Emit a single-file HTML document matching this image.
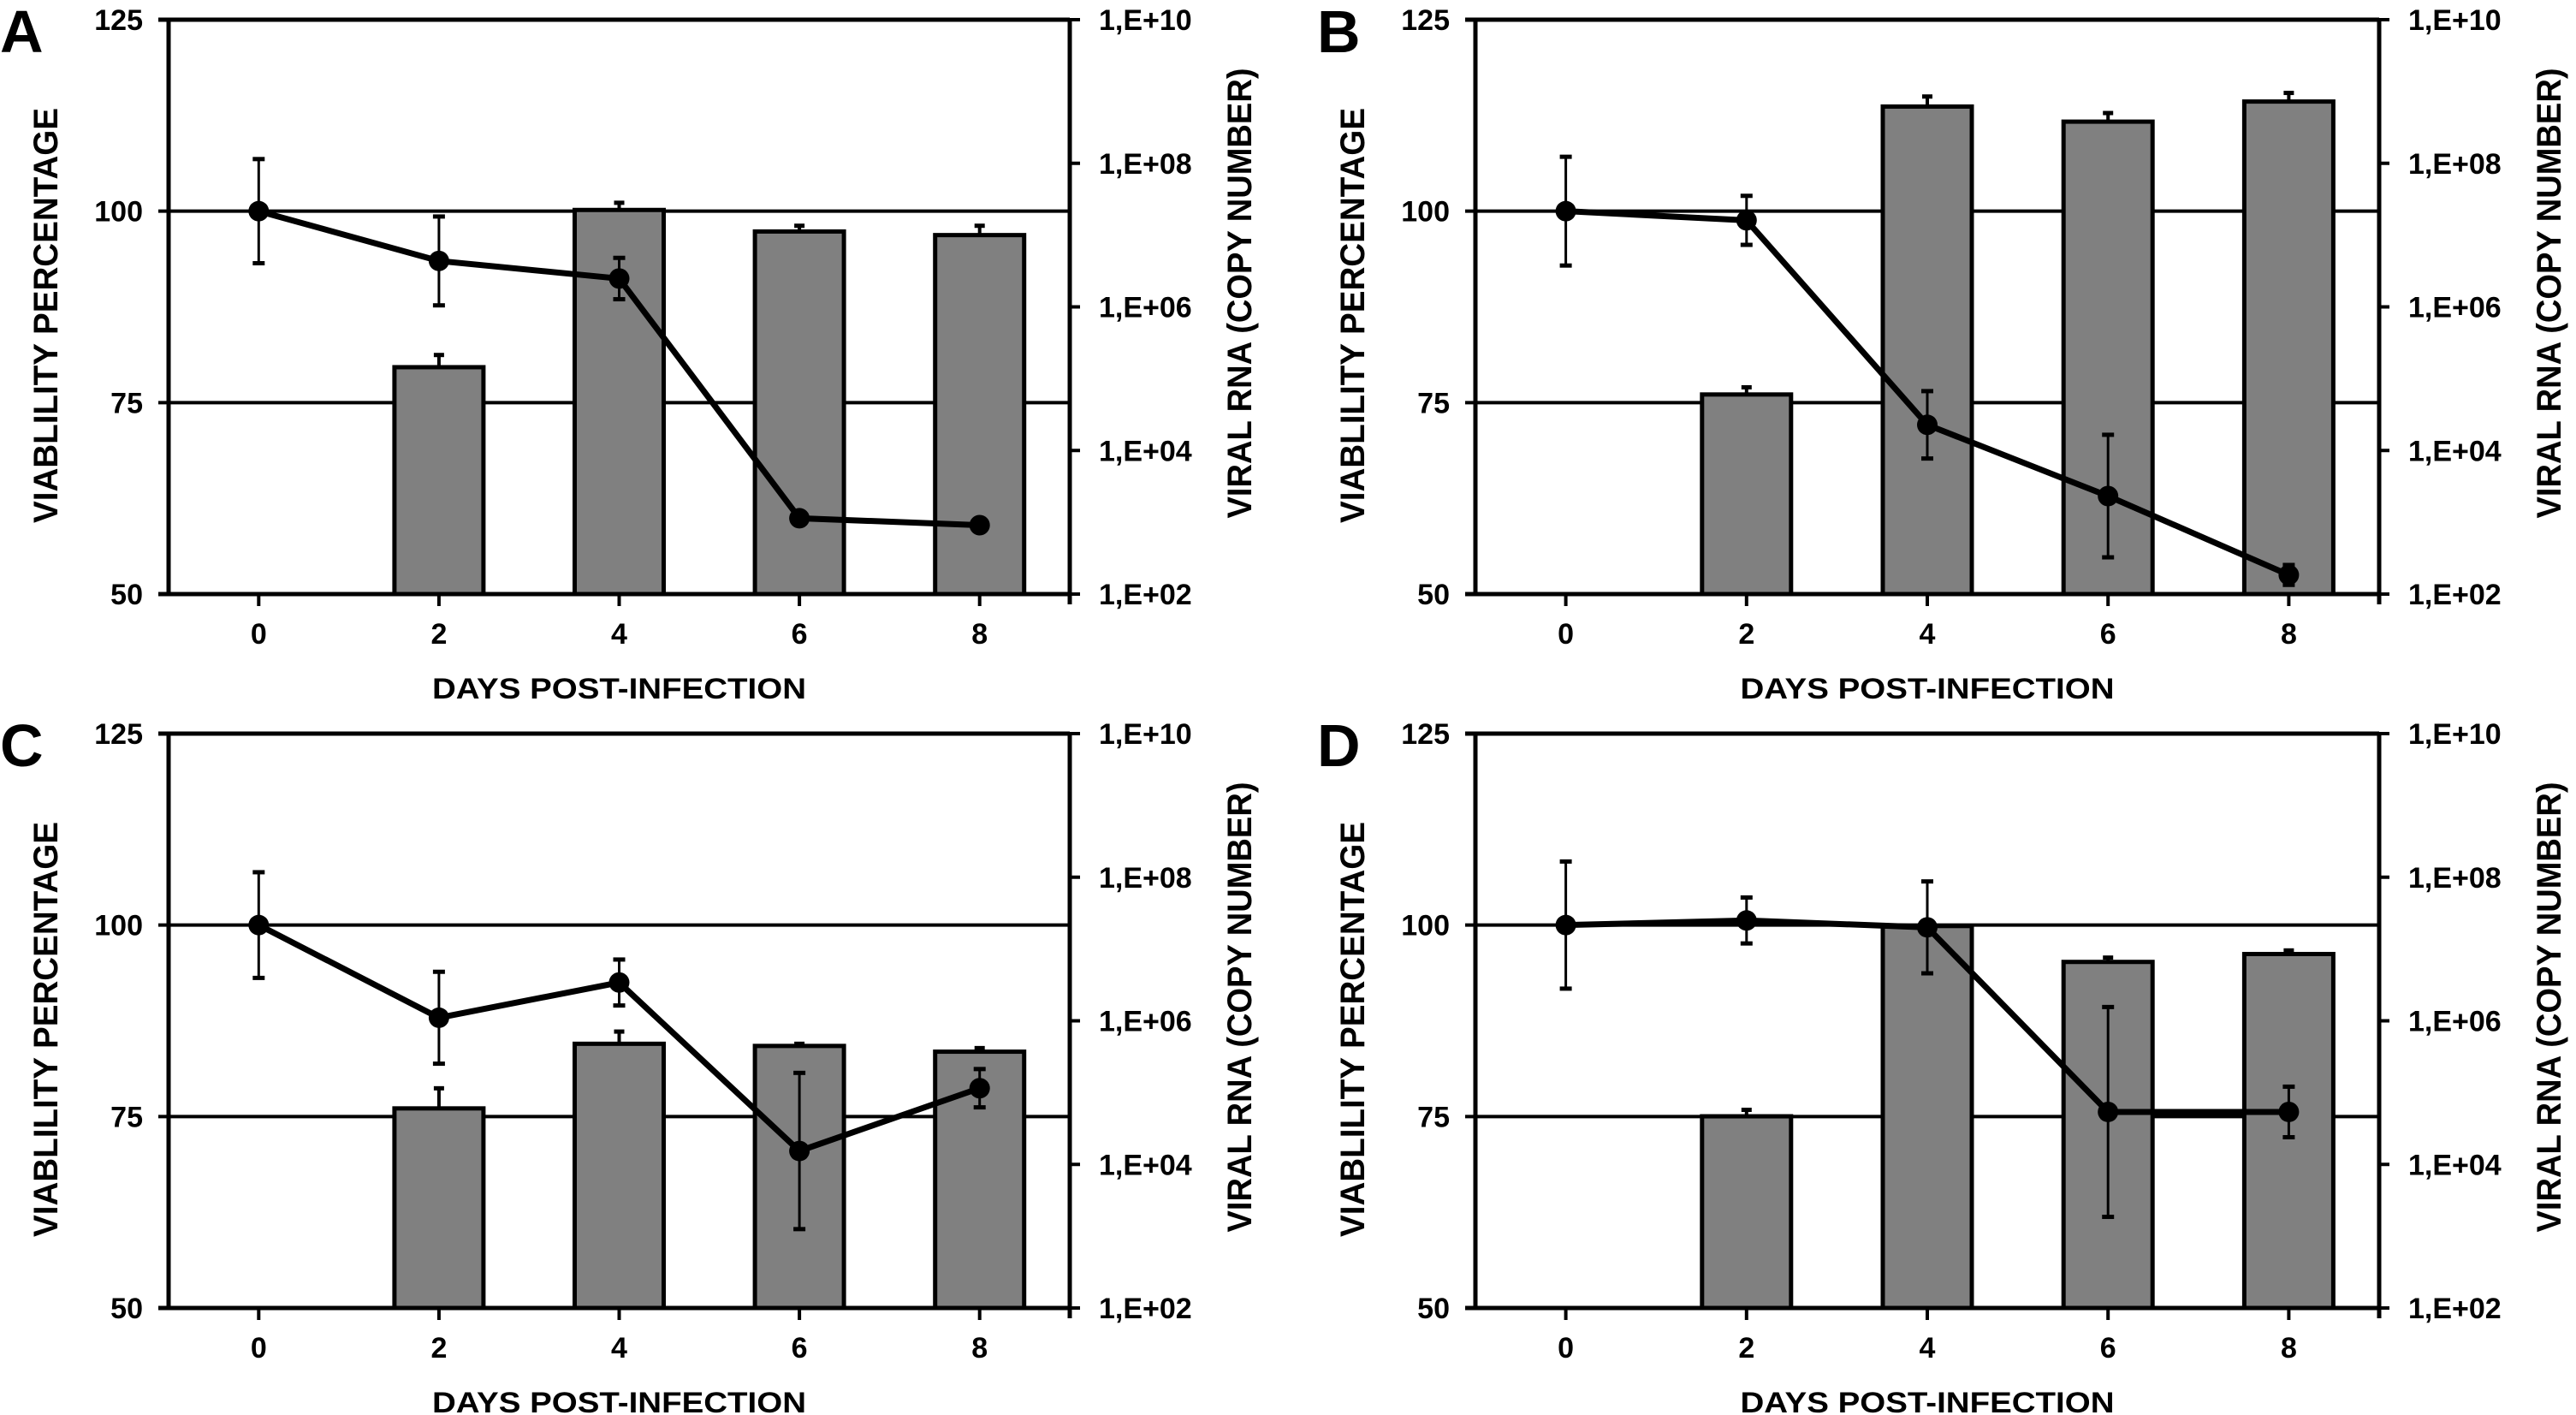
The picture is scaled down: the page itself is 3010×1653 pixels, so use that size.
<!DOCTYPE html>
<html><head><meta charset="utf-8">
<style>
html,body{margin:0;padding:0;background:#fff;}
svg{display:block;}
text{font-family:"Liberation Sans",sans-serif;font-weight:bold;fill:#000;}
</style></head>
<body>
<svg id="fig" width="3010" height="1653" viewBox="0 0 3010 1653" xmlns="http://www.w3.org/2000/svg"></svg>
<script>
const days = ["0","2","4","6","8"];
const leftTicks = [50,75,100,125];
const rightTickExp = [2,4,6,8,10];
const rightTickLabels = ["1,E+02","1,E+04","1,E+06","1,E+08","1,E+10"];
// viability line (%), and symmetric error
const viabA = [100,93.5,91.2,59.9,59.0];
const viabErrA = [6.8,5.8,2.7,0,0];
const viabB = [100,98.8,72.1,62.8,52.5];
const viabErrB = [7.1,3.2,4.4,8.0,1.3];
const viabC = [100,87.9,92.5,70.5,78.7];
const viabErrC = [6.9,6.0,3.0,10.2,2.5];
const viabD = [100,100.6,99.7,75.6,75.6];
const viabErrD = [8.3,3.0,6.0,13.7,3.3];
// viral RNA log10 copy numbers (null = no bar)
const rnaA = [null,5.16,7.35,7.05,7.0];
const rnaErrA = [0,0.17,0.1,0.08,0.13];
const rnaB = [null,4.78,8.79,8.58,8.86];
const rnaErrB = [0,0.1,0.14,0.12,0.12];
const rnaC = [null,4.78,5.68,5.65,5.57];
const rnaErrC = [0,0.28,0.17,0.03,0.05];
const rnaD = [null,4.67,7.32,6.82,6.93];
const rnaErrD = [0,0.09,0.05,0.06,0.05];

const NS="http://www.w3.org/2000/svg";
const svg=document.getElementById('fig');
function mk(tag,attrs,parent){const e=document.createElementNS(NS,tag);for(const k in attrs)e.setAttribute(k,attrs[k]);(parent||svg).appendChild(e);return e;}

const panels=[
 {id:'a',letter:'A',lx:0,left:197,right:1250,top:23,bottom:694,viab:viabA,verr:viabErrA,rna:rnaA,rerr:rnaErrA},
 {id:'b',letter:'B',lx:1539,left:1724,right:2780,top:23,bottom:694,viab:viabB,verr:viabErrB,rna:rnaB,rerr:rnaErrB},
 {id:'c',letter:'C',lx:0,left:197,right:1250,top:857,bottom:1528,viab:viabC,verr:viabErrC,rna:rnaC,rerr:rnaErrC},
 {id:'d',letter:'D',lx:1539,left:1724,right:2780,top:857,bottom:1528,viab:viabD,verr:viabErrD,rna:rnaD,rerr:rnaErrD}
];

panels.forEach(p=>{
 const g=mk('g',{});
 
 
 const yL=v=>p.bottom-(v-50)/75*(p.bottom-p.top);
 const yR=e=>p.bottom-(e-2)/8*(p.bottom-p.top);
 const step=(p.right-p.left)/5;
 const xC=i=>p.left+step*(i+0.5);
 const bw=104;
 const lt=mk('text',{x:p.lx,y:p.top+38,'font-size':70},g);lt.textContent=p.letter;
 
 
 leftTicks.forEach(v=>{
  const ln=mk('line',{x1:p.left-12,x2:p.right,y1:yL(v),y2:yL(v),stroke:'#000','stroke-width':(v===50||v===125)?5:4},g);
  
  
  const t=mk('text',{x:p.left-30,y:yL(v)+12,'font-size':34,'text-anchor':'end'},g);t.textContent=v;
  
  
 });
 const la=mk('line',{x1:p.left,x2:p.left,y1:p.top,y2:p.bottom,stroke:'#000','stroke-width':5},g);
 
 
 const ra=mk('line',{x1:p.right,x2:p.right,y1:p.top,y2:p.bottom+12,stroke:'#000','stroke-width':5},g);
 
 
 rightTickExp.forEach((e,i)=>{
  mk('line',{x1:p.right,x2:p.right+12,y1:yR(e),y2:yR(e),stroke:'#000','stroke-width':4},g);
  const t=mk('text',{x:p.right+34,y:yR(e)+12,'font-size':34},g);t.textContent=rightTickLabels[i];
  
  
 });
 p.rna.forEach((v,i)=>{
  if(v===null)return;
  const b=mk('rect',{x:xC(i)-bw/2,y:yR(v),width:bw,height:p.bottom-yR(v),fill:'#808080',stroke:'#000','stroke-width':5},g);
  
  
  const et=yR(v+p.rerr[i]);
  mk('line',{x1:xC(i),x2:xC(i),y1:et,y2:yR(v),stroke:'#000','stroke-width':4},g);
  mk('line',{x1:xC(i)-6,x2:xC(i)+6,y1:et,y2:et,stroke:'#000','stroke-width':5},g);
 });
 days.forEach((d,i)=>{
  mk('line',{x1:xC(i),x2:xC(i),y1:p.bottom,y2:p.bottom+14,stroke:'#000','stroke-width':4},g);
  const t=mk('text',{x:xC(i),y:p.bottom+58,'font-size':34,'text-anchor':'middle'},g);t.textContent=d;
  
  
 });
 const pts=p.viab.map((v,i)=>xC(i)+','+yL(v)).join(' ');
 const pl=mk('polyline',{points:pts,fill:'none',stroke:'#000','stroke-width':7},g);
 
 
 p.viab.forEach((v,i)=>{
  const e=p.verr[i];
  if(e>0){
   mk('line',{x1:xC(i),x2:xC(i),y1:yL(v+e),y2:yL(v-e),stroke:'#000','stroke-width':3},g);
   mk('line',{x1:xC(i)-7,x2:xC(i)+7,y1:yL(v+e),y2:yL(v+e),stroke:'#000','stroke-width':5},g);
   mk('line',{x1:xC(i)-7,x2:xC(i)+7,y1:yL(v-e),y2:yL(v-e),stroke:'#000','stroke-width':5},g);
  }
  const c=mk('ellipse',{cx:xC(i),cy:yL(v),rx:12,ry:12,fill:'#000'},g);
  
  
 });
 const cy=(p.top+p.bottom)/2;
 const yt=mk('text',{x:0,y:0,'font-size':40,'text-anchor':'middle',textLength:485,lengthAdjust:'spacingAndGlyphs',transform:`translate(${p.left-130},${cy+10}) rotate(-90)`},g);
 yt.textContent='VIABLILITY PERCENTAGE';
 
 
 const rt=mk('text',{x:0,y:0,'font-size':40,'text-anchor':'middle',textLength:526,lengthAdjust:'spacingAndGlyphs',transform:`translate(${p.right+212},${cy-16}) rotate(-90)`},g);
 rt.textContent='VIRAL RNA (COPY NUMBER)';
 
 
 const xt=mk('text',{x:(p.left+p.right)/2,y:p.bottom+122,'font-size':34,'text-anchor':'middle',textLength:437,lengthAdjust:'spacingAndGlyphs'},g);
 xt.textContent='DAYS POST-INFECTION';
 
 
});
</script>
</body></html>
